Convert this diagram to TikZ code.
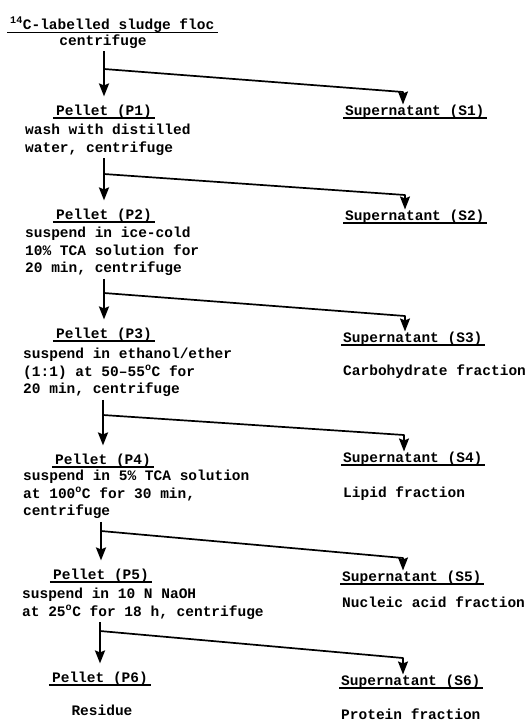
\documentclass[tikz,border=0pt]{standalone}
\usepackage{fontspec}
\setmonofont{Liberation Mono}
\usetikzlibrary{arrows.meta}

\begin{document}
\begin{tikzpicture}[x=1pt,y=-1pt,
    every node/.style={font=\fontsize{14.5}{17.5}\selectfont\ttfamily\bfseries,inner sep=0pt},
    head/.style={anchor=mid,inner xsep=3pt},
    side/.style={anchor=mid west,inner xsep=2pt},
    desc/.style={anchor=north west,align=left},
    uline/.style={line width=1.8pt},
    flow/.style={line width=2.2pt,-{Stealth[length=13pt,width=10pt,inset=2pt]},shorten >=8pt},
    branch/.style={line width=1.7pt,line join=round,-{Stealth[length=13pt,width=10pt,inset=2pt]}}]

    \useasboundingbox (0,0) rectangle (527,724);

    % left column: pellets
    \node[anchor=mid west,inner xsep=3pt] (t0) at (7,27) {\textsuperscript{14}C-labelled sludge floc};
    \node[anchor=mid] (d0) at (103,43) {centrifuge};
    \node[head] (p1) at (104,113) {Pellet (P1)};
    \node[desc] (d1) at (25,124) {wash with distilled\\water, centrifuge};
    \node[head] (p2) at (104,217) {Pellet (P2)};
    \node[desc] (d2) at (25,227) {suspend in ice-cold\\10\% TCA solution for\\20 min, centrifuge};
    \node[head] (p3) at (104,336) {Pellet (P3)};
    \node[desc] (d3) at (23,348) {suspend in ethanol/ether\\(1:1) at 50–55\textsuperscript{o}C for\\20 min, centrifuge};
    \node[head] (p4) at (103,462) {Pellet (P4)};
    \node[desc] (d4) at (23,470) {suspend in 5\% TCA solution\\at 100\textsuperscript{o}C for 30 min,\\centrifuge};
    \node[head] (p5) at (101,577) {Pellet (P5)};
    \node[desc] (d5) at (22,588) {suspend in 10 N NaOH\\at 25\textsuperscript{o}C for 18 h, centrifuge};
    \node[head] (p6) at (100,680) {Pellet (P6)};
    \node[anchor=mid] (res) at (102,713) {Residue};

    % right column: supernatants
    \node[side] (s1) at (343,113) {Supernatant (S1)};
    \node[side] (s2) at (343,218) {Supernatant (S2)};
    \node[side] (s3) at (341,340) {Supernatant (S3)};
    \node[anchor=mid west] (f3) at (343,373) {Carbohydrate fraction};
    \node[side] (s4) at (341,460) {Supernatant (S4)};
    \node[anchor=mid west] (f4) at (343,495) {Lipid fraction};
    \node[side] (s5) at (340,579) {Supernatant (S5)};
    \node[anchor=mid west] (f5) at (342,605) {Nucleic acid fraction};
    \node[side] (s6) at (339,683) {Supernatant (S6)};
    \node[anchor=mid west] (f6) at (341,717) {Protein fraction};

    \foreach \n in {t0,p1,p2,p3,p4,p5,p6,s1,s2,s3,s4,s5,s6}
      \draw[uline] (\n.south west) -- (\n.south east);

    % downward arrows
    \draw[flow] ([yshift=-3pt]p1.north |- d0.south) -- (p1.north);
    \draw[flow] ([yshift=-3pt]p2.north |- d1.south) -- (p2.north);
    \draw[flow] ([yshift=-3pt]p3.north |- d2.south) -- (p3.north);
    \draw[flow] ([yshift=-3pt]p4.north |- d3.south) -- (p4.north);
    \draw[flow] ([yshift=-3pt]p5.north |- d4.south) -- (p5.north);
    \draw[flow] ([yshift=-3pt]p6.north |- d5.south) -- (p6.north);

    % side branches
    \coordinate (b1) at (p1.north |- 0,69);  \coordinate (k1) at (403,92);
    \coordinate (b2) at (p2.north |- 0,174); \coordinate (k2) at (405,195);
    \coordinate (b3) at (p3.north |- 0,293); \coordinate (k3) at (405,316);
    \coordinate (b4) at (p4.north |- 0,415); \coordinate (k4) at (404,435);
    \coordinate (b5) at (p5.north |- 0,531); \coordinate (k5) at (403,558);
    \coordinate (b6) at (p6.north |- 0,631); \coordinate (k6) at (403,658);
    \foreach \i in {1,...,6}
      \draw[branch] (b\i) -- (k\i) -- (k\i |- s\i.north);

\end{tikzpicture}
\end{document}
